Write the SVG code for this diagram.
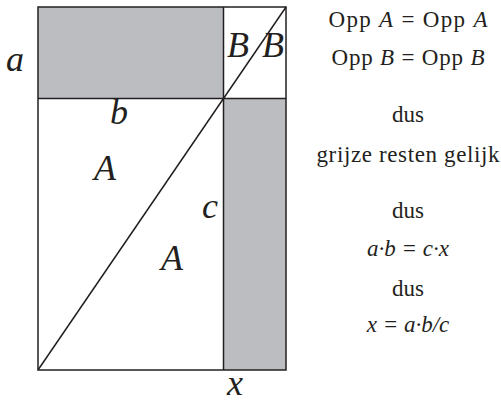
<svg xmlns="http://www.w3.org/2000/svg" width="501" height="402" viewBox="0 0 501 402">
<style>
.g{fill:#bcbdc0}
.ln{fill:none;stroke:#231f20;stroke-width:1.5}
.lab{font-family:'Liberation Serif','DejaVu Serif',serif;font-style:italic;font-size:36px;fill:#231f20;text-anchor:middle}
.t{font-family:'Liberation Serif','DejaVu Serif',serif;font-size:23px;fill:#231f20;text-anchor:middle}
.i{font-style:italic}
</style>
<rect width="501" height="402" fill="#fff"/>
<g id="shapes">
<rect id="grey-top" class="g" x="38" y="7" width="185.5" height="91.5"/>
<rect id="grey-right" class="g" x="223.5" y="98.5" width="62.5" height="271.5"/>
<rect id="outer" class="ln" x="38" y="7" width="248" height="363"/>
<line class="ln" x1="223.5" y1="7" x2="223.5" y2="370"/>
<line class="ln" x1="38" y1="98.5" x2="286" y2="98.5"/>
<line class="ln" x1="38" y1="370" x2="286" y2="7"/>
</g>
<g id="labels">
<text class="lab" x="15" y="71">a</text>
<text class="lab" x="119" y="124">b</text>
<text class="lab" x="238" y="57">B</text>
<text class="lab" x="273" y="57">B</text>
<text class="lab" x="105" y="180">A</text>
<text class="lab" x="210" y="218">c</text>
<text class="lab" x="172" y="270">A</text>
<text class="lab" x="235" y="395">x</text>
</g>
<g id="text">
<text class="t" x="408" y="27" textLength="159">Opp <tspan class="i">A</tspan> = Opp <tspan class="i">A</tspan></text>
<text class="t" x="408" y="65" textLength="153">Opp <tspan class="i">B</tspan> = Opp <tspan class="i">B</tspan></text>
<text class="t" x="408" y="122">dus</text>
<text class="t" x="408" y="162" textLength="183">grijze resten gelijk</text>
<text class="t" x="408" y="218">dus</text>
<text class="t i" x="408" y="256">a·b = c·x</text>
<text class="t" x="408" y="296">dus</text>
<text class="t i" x="408" y="332">x = a·b/c</text>
</g>
</svg>
